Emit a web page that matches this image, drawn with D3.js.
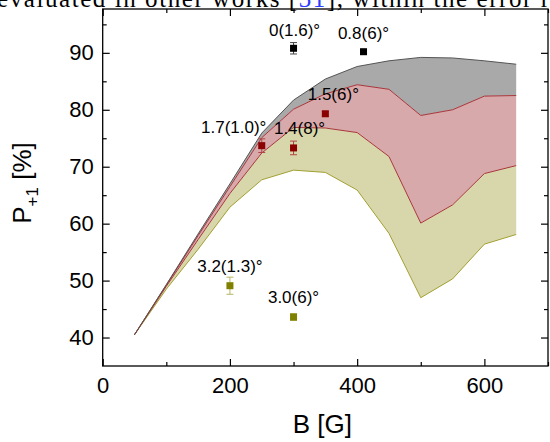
<!DOCTYPE html>
<html>
<head>
<meta charset="utf-8">
<script src="https://cdn.jsdelivr.net/npm/d3@7"></script>
<style>
  body { margin: 0; background: #fff; }
  svg { display: block; }
  .axis text { font-family: "Liberation Sans", Arial, sans-serif; font-size: 22px; fill: #000; }
  .axis path { display: none; }
  .axis line { stroke: #000; stroke-width: 1.2; }
</style>
</head>
<body>
<div id="chart"></div>
<script>
// field values where the simulated bands were computed
var bField = [50, 100, 150, 200, 250, 300, 350, 400, 450, 500, 550, 600, 650];
// band boundaries, P+1 in %
var grayTop      = [40.5, 49.3, 58.2, 67.0, 75.9, 81.7, 85.4, 87.6, 88.6, 89.2, 89.1, 88.6, 88.0];
var redTop       = [40.5, 49.2, 57.9, 66.5, 75.1, 80.1, 82.8, 84.4, 83.6, 79.0, 80.0, 82.4, 82.5];
var yellowTop    = [40.5, 49.0, 57.2, 65.3, 72.4, 76.9, 76.8, 76.0, 71.8, 60.1, 63.3, 68.8, 70.2];
var yellowBottom = [40.5, 48.5, 55.5, 62.9, 67.7, 69.4, 69.0, 65.9, 58.3, 47.0, 50.3, 56.4, 58.1];

// measured points
var blackB = [300, 410];
var blackP = [90.8, 90.2];
var blackErr = [1.0, 0.3];
var blackLabels = ["0(1.6)°", "0.8(6)°"];

var redB = [250, 300, 350];
var redP = [73.7, 73.3, 79.3];
var redErr = [1.2, 1.2, 0.4];
var redLabels = ["1.7(1.0)°", "1.4(8)°", "1.5(6)°"];

var oliveB = [200, 300];
var oliveP = [49.1, 43.6];
var oliveErr = [1.5, 0.6];
var oliveLabels = ["3.2(1.3)°", "3.0(6)°"];

var xMajor = [0, 200, 400, 600];
var xMinor = [100, 300, 500, 700];
var yMajor = [40, 50, 60, 70, 80, 90];
var yMinor = [45, 55, 65, 75, 85, 95];

var width = 550, height = 442;
var mLeft = 102.7, mRight = 548, mTop = 9, mBottom = 366;

var svg = d3.select("#chart").append("svg")
    .attr("width", width)
    .attr("height", height);

// cut-off line of the surrounding paper text
svg.append("text")
    .attr("x", -3)
    .attr("y", 7)
    .attr("textLength", 552)
    .attr("lengthAdjust", "spacing")
    .style("font-family", "'Liberation Serif', 'DejaVu Serif', serif")
    .style("font-size", "25px")
    .attr("fill", "#000")
    .html('evaluated in other works [<tspan fill="#2a3cff">31</tspan>], within the error r');

var x = d3.scaleLinear().domain([0, 700]).range([mLeft, mRight]);
var y = d3.scaleLinear().domain([35, 97.7]).range([mBottom, mTop]);

var plot = svg.append("g");

function band(hi, lo) {
    return d3.area()
        .x(function(d, i) { return x(bField[i]); })
        .y1(function(d, i) { return y(hi[i]); })
        .y0(function(d, i) { return y(lo[i]); })(bField);
}
function line(vals) {
    return d3.line()
        .x(function(d, i) { return x(bField[i]); })
        .y(function(d, i) { return y(vals[i]); })(bField);
}

plot.append("path").attr("d", band(grayTop, redTop)).attr("fill", "#a9a9a9");
plot.append("path").attr("d", band(redTop, yellowTop)).attr("fill", "#d8a9ab");
plot.append("path").attr("d", band(yellowTop, yellowBottom)).attr("fill", "#d8d7ab");

plot.append("path").attr("d", line(yellowBottom)).attr("fill", "none").attr("stroke", "#a3a032").attr("stroke-width", 1);
plot.append("path").attr("d", line(yellowTop)).attr("fill", "none").attr("stroke", "#a8353a").attr("stroke-width", 1);
plot.append("path").attr("d", line(redTop)).attr("fill", "none").attr("stroke", "#a8353a").attr("stroke-width", 1);
plot.append("path").attr("d", line(grayTop)).attr("fill", "none").attr("stroke", "#555").attr("stroke-width", 1);

// label offsets in px (relative to the point)
var blackOff = [[1, -12], [0, -13]];
var redOff = [[-28, -13], [6, -14], [8, -14]];
var oliveOff = [[0, -14], [0, -14]];

function points(bs, ps, errs, labels, offs, color, errColor) {
    var g = svg.append("g");
    bs.forEach(function(b, i) {
        var cx = x(b), cy = y(ps[i]);
        var y1 = y(ps[i] + errs[i]), y2 = y(ps[i] - errs[i]);
        g.append("line").attr("x1", cx).attr("x2", cx).attr("y1", y1).attr("y2", y2)
            .attr("stroke", errColor).attr("stroke-width", 1);
        [y1, y2].forEach(function(yy) {
            g.append("line").attr("x1", cx - 3.5).attr("x2", cx + 3.5).attr("y1", yy).attr("y2", yy)
                .attr("stroke", errColor).attr("stroke-width", 1);
        });
        g.append("rect").attr("x", cx - 3.5).attr("y", cy - 3.5)
            .attr("width", 7).attr("height", 7).attr("fill", color);
        g.append("text")
            .attr("x", cx + offs[i][0]).attr("y", cy + offs[i][1])
            .attr("text-anchor", "middle")
            .style("font-family", "'Liberation Sans', Arial, sans-serif")
            .style("font-size", "17px")
            .text(labels[i]);
    });
}
points(blackB, blackP, blackErr, blackLabels, blackOff, "#000", "#444");
points(redB, redP, redErr, redLabels, redOff, "#8b0000", "#b04545");
points(oliveB, oliveP, oliveErr, oliveLabels, oliveOff, "#808000", "#b5b562");

// axes with inward ticks
svg.append("g").attr("class", "axis").attr("transform", "translate(0," + mBottom + ")")
    .call(d3.axisBottom(x).tickValues(xMajor).tickSize(-7).tickPadding(11));
svg.append("g").attr("class", "axis").attr("transform", "translate(0," + mBottom + ")")
    .call(d3.axisBottom(x).tickValues(xMinor).tickSize(-4).tickFormat(""));
svg.append("g").attr("class", "axis").attr("transform", "translate(0," + mTop + ")")
    .call(d3.axisTop(x).tickValues(xMajor).tickSize(-7).tickFormat(""));
svg.append("g").attr("class", "axis").attr("transform", "translate(0," + mTop + ")")
    .call(d3.axisTop(x).tickValues(xMinor).tickSize(-4).tickFormat(""));

svg.append("g").attr("class", "axis").attr("transform", "translate(" + mLeft + ",0)")
    .call(d3.axisLeft(y).tickValues(yMajor).tickSize(-7).tickPadding(9));
svg.append("g").attr("class", "axis").attr("transform", "translate(" + mLeft + ",0)")
    .call(d3.axisLeft(y).tickValues(yMinor).tickSize(-4).tickFormat(""));
svg.append("g").attr("class", "axis").attr("transform", "translate(" + mRight + ",0)")
    .call(d3.axisRight(y).tickValues(yMajor).tickSize(-7).tickFormat(""));
svg.append("g").attr("class", "axis").attr("transform", "translate(" + mRight + ",0)")
    .call(d3.axisRight(y).tickValues(yMinor).tickSize(-4).tickFormat(""));

svg.append("rect")
    .attr("x", mLeft).attr("y", mTop)
    .attr("width", mRight - mLeft).attr("height", mBottom - mTop)
    .attr("fill", "none").attr("stroke", "#000").attr("stroke-width", 1.3);

// axis titles
svg.append("text")
    .attr("x", (mLeft + mRight) / 2 - 3).attr("y", 433)
    .attr("text-anchor", "middle")
    .style("font-family", "'Liberation Sans', Arial, sans-serif")
    .style("font-size", "26px")
    .text("B [G]");

var yt = svg.append("text")
    .attr("transform", "translate(31,183) rotate(-90)")
    .attr("text-anchor", "middle")
    .style("font-family", "'Liberation Sans', Arial, sans-serif")
    .style("font-size", "26px");
yt.append("tspan").text("P");
yt.append("tspan").attr("dy", 7).style("font-size", "17px").text("+1");
yt.append("tspan").attr("dy", -7).text(" [%]");
</script>
</body>
</html>
